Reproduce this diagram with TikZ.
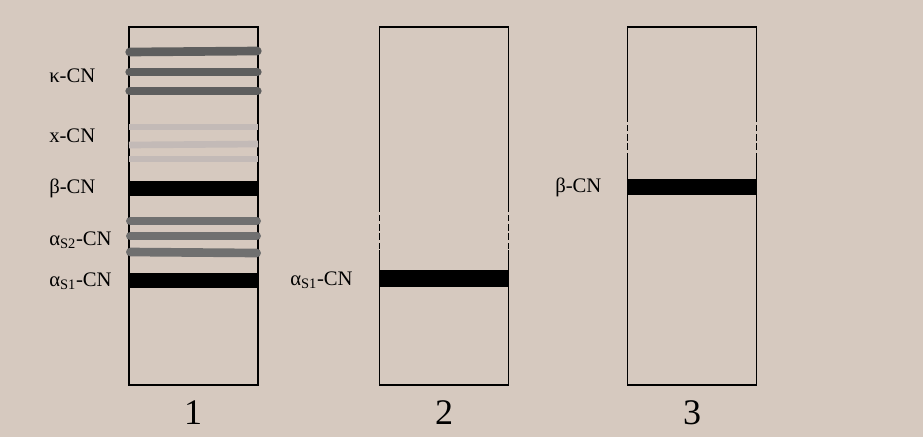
\documentclass[tikz,border=0pt]{standalone}
\usepackage{fontspec}
\setmainfont{Liberation Serif}
\definecolor{bg}{HTML}{D6C9BF}
\definecolor{darkband}{HTML}{5E5E5E}
\definecolor{midband}{HTML}{707070}
\definecolor{lightband}{HTML}{C3BAB7}
\begin{document}
\begin{tikzpicture}[x=0.75pt,y=-0.75pt,
  lane/.style={draw=black,line width=1.1pt,minimum width=96.75pt,minimum height=268.5pt,inner sep=0pt,outer sep=0pt},
  lbl/.style={font=\fontsize{15.5pt}{17pt}\selectfont,anchor=west,inner sep=0pt},
  num/.style={font=\fontsize{27pt}{29pt}\selectfont,inner sep=0pt},
  darkb/.style={draw=darkband,line width=6.5pt,line cap=round},
  midb/.style={draw=midband,line width=6.5pt,line cap=round},
  lightb/.style={draw=lightband,line width=5pt},
  blackb/.style={fill=black},
  gap/.style={draw=bg,line width=1.4pt,dash pattern=on 2pt off 5pt}]
\useasboundingbox (0,0) rectangle (923,437);
\fill[bg] (0,0) rectangle (923,437);
% lanes
\node[lane] (L1) at (193.5,206) {};
\node[lane] (L2) at (444,206) {};
\node[lane] (L3) at (692,206) {};
% lane 1 bands
\draw[darkb] ([xshift=0.5pt]L1.west |- 0,52) -- ([xshift=-0.5pt]L1.east |- 0,51);
\draw[darkb] ([xshift=0.5pt]L1.west |- 0,72) -- ([xshift=-0.5pt]L1.east |- 0,72);
\draw[darkb] ([xshift=0.5pt]L1.west |- 0,91) -- ([xshift=-0.5pt]L1.east |- 0,91);
\draw[lightb] (L1.west |- 0,127) -- (L1.east |- 0,127);
\draw[lightb] (L1.west |- 0,145) -- (L1.east |- 0,144);
\draw[lightb] (L1.west |- 0,159) -- (L1.east |- 0,159);
\fill[blackb] (L1.west |- 0,181) rectangle (L1.east |- 0,196);
\draw[midb] ([xshift=1pt]L1.west |- 0,221) -- ([xshift=-1pt]L1.east |- 0,221);
\draw[midb] ([xshift=1pt]L1.west |- 0,236) -- ([xshift=-1pt]L1.east |- 0,236);
\draw[midb] ([xshift=1pt]L1.west |- 0,252) -- ([xshift=-1pt]L1.east |- 0,253);
\fill[blackb] (L1.west |- 0,273) rectangle (L1.east |- 0,288);
% lane 2
\draw[gap] (L2.west |- 0,212) -- (L2.west |- 0,250);
\draw[gap] (L2.east |- 0,212) -- (L2.east |- 0,250);
\fill[blackb] (L2.west |- 0,270) rectangle (L2.east |- 0,287);
% lane 3
\draw[gap] (L3.west |- 0,122) -- (L3.west |- 0,157);
\draw[gap] (L3.east |- 0,122) -- (L3.east |- 0,157);
\fill[blackb] (L3.west |- 0,179) rectangle (L3.east |- 0,195);
% labels
\node[lbl] (kappa) at (49,76) {κ-CN};
\node[lbl] (xcn) at (49,136) {x-CN};
\node[lbl] (beta1) at (49,188) {β-CN};
\node[lbl] (as2) at (49,240) {α\textsubscript{S2}-CN};
\node[lbl] (as1a) at (49,281) {α\textsubscript{S1}-CN};
\node[lbl] (as1b) at (290,280) {α\textsubscript{S1}-CN};
\node[lbl] (beta3) at (555,187) {β-CN};
% lane numbers
\node[num] (n1) at (193,413) {1};
\node[num] (n2) at (444,413) {2};
\node[num] (n3) at (692,413) {3};
\end{tikzpicture}
\end{document}
